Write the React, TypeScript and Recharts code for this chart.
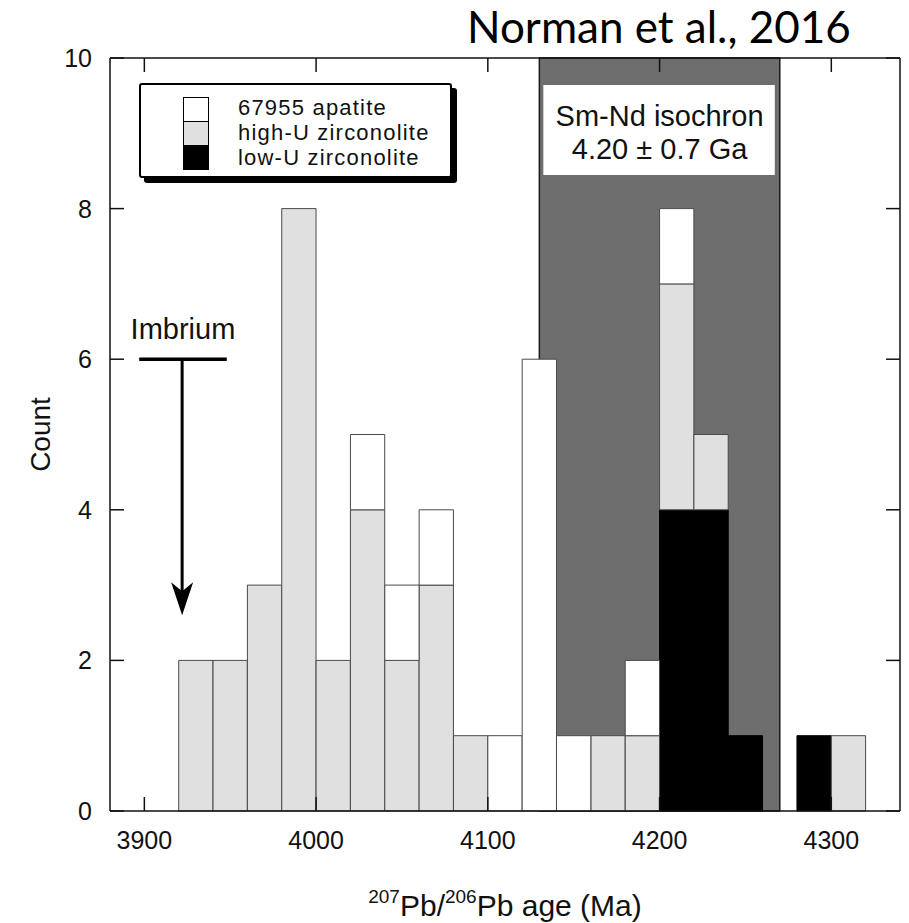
import { Bar, ComposedChart, Legend, ReferenceArea, ReferenceLine, XAxis, YAxis } from 'recharts'

// 20 Ma bins, value = bin start age
const binStart = [3920, 3940, 3960, 3980, 4000, 4020, 4040, 4060, 4080, 4100, 4120, 4140, 4160, 4180, 4200, 4220, 4240, 4260, 4280, 4300]
const lowUZirconolite = [0, 0, 0, 0, 0, 0, 0, 0, 0, 0, 0, 0, 0, 0, 4, 4, 1, 0, 1, 0]
const highUZirconolite = [2, 2, 3, 8, 2, 4, 2, 3, 1, 0, 0, 0, 1, 1, 3, 1, 0, 0, 0, 1]
const apatite67955 = [0, 0, 0, 0, 0, 1, 1, 1, 0, 1, 6, 1, 0, 1, 1, 0, 0, 0, 0, 0]
const BIN_WIDTH = 20

const xDomain = [3880, 4340]
const xTicks = [3900, 4000, 4100, 4200, 4300]
const yTicks = [0, 2, 4, 6, 8, 10]

const isochronRange = [4130, 4270]
const imbriumAge = 3922
const imbriumBar = [3897, 3948]
const imbriumLevel = 6
const imbriumArrowTip = 2.6

const series = [
  { key: 'low', name: 'low-U zirconolite', fill: '#000000', stroke: '#000000' },
  { key: 'high', name: 'high-U zirconolite', fill: '#e0e0e0', stroke: '#4a4a4a' },
  { key: 'apatite', name: '67955 apatite', fill: '#ffffff', stroke: '#4a4a4a' },
]

const data = binStart.map((start, i) => ({
  age: start + BIN_WIDTH / 2,
  low: lowUZirconolite[i],
  high: highUZirconolite[i],
  apatite: apatite67955[i],
}))

const W = 909
const H = 923
const LEFT_W = 110
const RIGHT_W = 9
const TOP_H = 58
const BOTTOM_H = 112
const PLOT_W = W - LEFT_W - RIGHT_W
const PLOT_H = H - TOP_H - BOTTOM_H
const pxPerMa = PLOT_W / (xDomain[1] - xDomain[0])
// recharts shrinks bars to 90% when barSize reaches the band, so stay just under it
const barSize = BIN_WIDTH * pxPerMa - 0.05

const FONT = '"Liberation Sans", Arial, Helvetica, sans-serif'
const INK = '#111'
const TICK = 14

// bottom tick: label + inward marks on bottom and top frame
function BottomTick({ x, y, payload }: any) {
  return (
    <g>
      <line x1={x} y1={y} x2={x} y2={y - TICK} stroke={INK} strokeWidth={1.5} />
      <line x1={x} y1={y - PLOT_H} x2={x} y2={y - PLOT_H + TICK} stroke={INK} strokeWidth={1.5} />
      <text x={x} y={y + 38} textAnchor="middle" fontSize={25} fontFamily={FONT} fill={INK}>
        {payload.value}
      </text>
    </g>
  )
}

// left tick: label + inward marks on left and right frame
function LeftTick({ x, y, payload }: any) {
  return (
    <g>
      <line x1={x} y1={y} x2={x + TICK} y2={y} stroke={INK} strokeWidth={1.5} />
      <line x1={x + PLOT_W} y1={y} x2={x + PLOT_W - TICK} y2={y} stroke={INK} strokeWidth={1.5} />
      <text x={x - 18} y={y + 9} textAnchor="end" fontSize={25} fontFamily={FONT} fill={INK}>
        {payload.value}
      </text>
    </g>
  )
}

function CountLabel({ viewBox }: any) {
  const cx = viewBox.x + 40
  const cy = viewBox.y + viewBox.height / 2
  return (
    <text
      x={cx}
      y={cy}
      transform={`rotate(-90 ${cx} ${cy})`}
      textAnchor="middle"
      dominantBaseline="central"
      fontSize={28}
      fontFamily={FONT}
      fill={INK}
    >
      Count
    </text>
  )
}

function AgeLabel({ viewBox }: any) {
  const cx = viewBox.x + viewBox.width / 2
  return (
    <text x={cx} y={viewBox.y + 105} textAnchor="middle" fontSize={30} fontFamily={FONT} fill={INK}>
      <tspan fontSize={19} dy={-13}>207</tspan>
      <tspan dy={13}>Pb/</tspan>
      <tspan fontSize={19} dy={-13}>206</tspan>
      <tspan dy={13}>Pb age (Ma)</tspan>
    </text>
  )
}

function IsochronLabel({ viewBox }: any) {
  const { x, y, width } = viewBox
  const cx = x + width / 2
  return (
    <g>
      <rect x={x + 4} y={y + 27} width={width - 9} height={90} fill="#fff" />
      <text x={cx} y={y + 68} textAnchor="middle" fontSize={29} fontFamily={FONT} fill={INK}>
        Sm-Nd isochron
      </text>
      <text x={cx} y={y + 101} textAnchor="middle" fontSize={29} fontFamily={FONT} fill={INK}>
        4.20 ± 0.7 Ga
      </text>
    </g>
  )
}

function ImbriumArrow({ x1, y1, x2, y2 }: any) {
  return (
    <g>
      <line x1={x1} y1={y1} x2={x2} y2={y2 - 22} stroke="#000" strokeWidth={3} />
      <polygon
        points={`${x2},${y2} ${x2 - 11},${y2 - 33} ${x2},${y2 - 24} ${x2 + 11},${y2 - 33}`}
        fill="#000"
      />
    </g>
  )
}

function LegendBox() {
  const items = [...series].reverse()
  return (
    <div
      style={{
        position: 'relative',
        width: 313,
        height: 95,
        boxSizing: 'border-box',
        border: '2px solid #000',
        borderRadius: 3,
        background: '#fff',
        boxShadow: '5px 5px 0 #000',
        fontFamily: FONT,
        fontSize: 22,
        letterSpacing: 1.2,
        color: INK,
      }}
    >
      <div style={{ position: 'absolute', left: 42, top: 12, width: 24, border: '1.5px solid #000' }}>
        {items.map((s, i) => (
          <div
            key={s.key}
            style={{
              height: 23,
              background: s.fill,
              borderTop: i > 0 ? '1px solid #000' : 'none',
            }}
          />
        ))}
      </div>
      <div style={{ position: 'absolute', left: 97, top: 10, lineHeight: '25px', whiteSpace: 'nowrap' }}>
        {items.map(s => (
          <div key={s.key}>{s.name}</div>
        ))}
      </div>
    </div>
  )
}

export default function App() {
  return (
    <div style={{ position: 'absolute', left: 0, top: 0, width: W, height: H, background: '#fff' }}>
      <div
        style={{
          position: 'absolute',
          left: 467,
          top: 0,
          fontFamily: 'Lato, "Open Sans", sans-serif',
          fontSize: 44,
          lineHeight: '52px',
          color: '#000',
          whiteSpace: 'nowrap',
        }}
      >
        Norman et al., 2016
      </div>
      <ComposedChart
        width={W}
        height={H}
        data={data}
        margin={{ top: 0, right: 0, bottom: 0, left: 0 }}
        barGap={0}
        barCategoryGap={0}
      >
        <ReferenceArea
          x1={isochronRange[0]}
          x2={isochronRange[1]}
          y1={0}
          y2={10}
          fill="#6e6e6e"
          fillOpacity={1}
          stroke="#1a1a1a"
          strokeWidth={1.5}
          label={<IsochronLabel />}
        />
        <XAxis
          dataKey="age"
          type="number"
          domain={xDomain}
          allowDataOverflow
          ticks={xTicks}
          height={BOTTOM_H}
          tickSize={0}
          tickMargin={0}
          tickLine={false}
          axisLine={{ stroke: INK, strokeWidth: 1.5 }}
          tick={<BottomTick />}
          interval={0}
          label={<AgeLabel />}
        />
        <XAxis
          xAxisId="top"
          orientation="top"
          type="number"
          domain={xDomain}
          allowDataOverflow
          height={TOP_H}
          tick={false}
          tickLine={false}
          axisLine={{ stroke: INK, strokeWidth: 1.5 }}
        />
        <YAxis
          type="number"
          domain={[0, 10]}
          ticks={yTicks}
          width={LEFT_W}
          tickSize={0}
          tickMargin={0}
          tickLine={false}
          axisLine={{ stroke: INK, strokeWidth: 1.5 }}
          tick={<LeftTick />}
          interval={0}
          label={<CountLabel />}
        />
        <YAxis
          yAxisId="right"
          orientation="right"
          type="number"
          domain={[0, 10]}
          width={RIGHT_W}
          tick={false}
          tickLine={false}
          axisLine={{ stroke: INK, strokeWidth: 1.5 }}
        />
        {series.map(s => (
          <Bar
            key={s.key}
            dataKey={s.key}
            name={s.name}
            stackId="count"
            fill={s.fill}
            stroke={s.stroke}
            strokeWidth={1}
            barSize={barSize}
            isAnimationActive={false}
          />
        ))}
        <ReferenceLine
          segment={[
            { x: imbriumBar[0], y: imbriumLevel },
            { x: imbriumBar[1], y: imbriumLevel },
          ]}
          stroke="#000"
          strokeWidth={3.5}
          label={{ value: 'Imbrium', position: 'top', offset: 20, fontSize: 29, fontFamily: FONT, fill: INK }}
        />
        <ReferenceLine
          segment={[
            { x: imbriumAge, y: imbriumLevel },
            { x: imbriumAge, y: imbriumArrowTip },
          ]}
          shape={ImbriumArrow}
        />
        <Legend
          layout="vertical"
          align="center"
          verticalAlign="middle"
          content={<LegendBox />}
          wrapperStyle={{ left: 139, top: 83, width: 320, height: 100 }}
        />
      </ComposedChart>
    </div>
  )
}
